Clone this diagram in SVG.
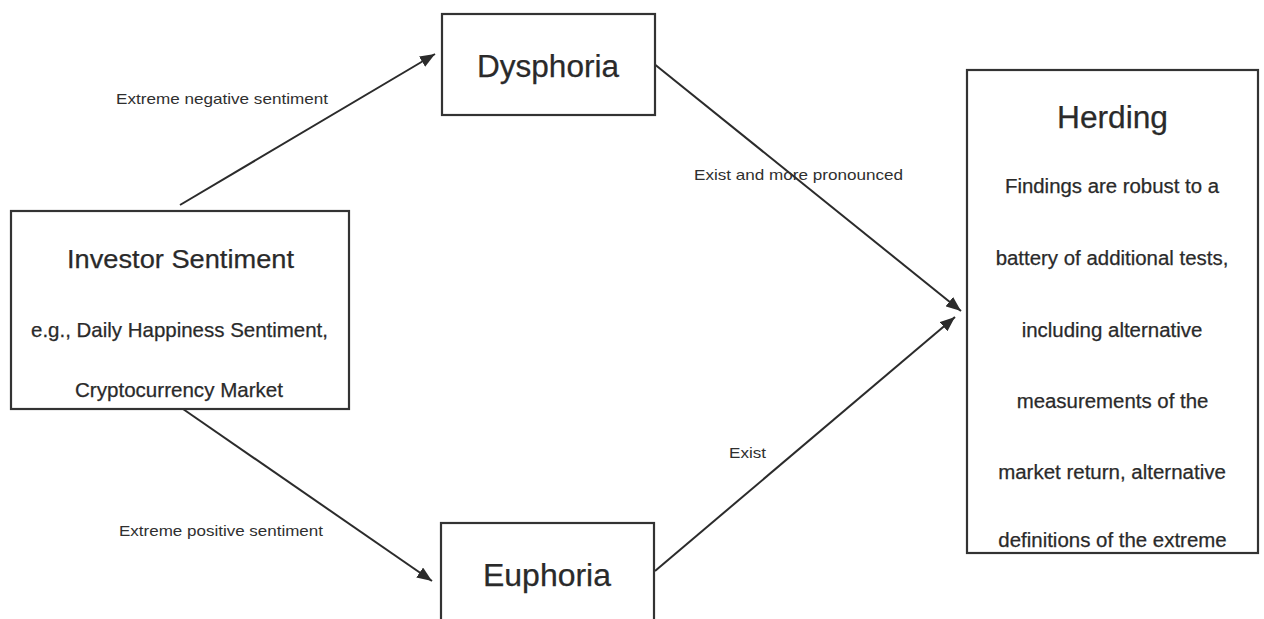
<svg xmlns="http://www.w3.org/2000/svg" width="1264" height="619" viewBox="0 0 1264 619">
<defs>
<marker id="arrow" markerUnits="userSpaceOnUse" markerWidth="16" markerHeight="12" refX="15" refY="6" orient="auto">
<path d="M0,0 L15,6 L0,12 z" fill="#2b2b2b"/>
</marker>
<style>
.box{fill:#fff;stroke:#333;stroke-width:2.2}
.t{font-family:"Liberation Sans",Arial,sans-serif;fill:#2a2a2a;text-anchor:middle;stroke:#2a2a2a;stroke-width:0.25}
.lbl{font-family:"Liberation Sans",Arial,sans-serif;fill:#2f2f2f;font-size:14.5px}
.edge{stroke:#2b2b2b;stroke-width:2;fill:none;marker-end:url(#arrow)}
</style>
</defs>
<rect width="1264" height="619" fill="#fff"/>
<g id="connectors">
<line class="edge" x1="180" y1="205" x2="435" y2="54"/>
<line class="edge" x1="653" y1="63" x2="961" y2="311"/>
<line class="edge" x1="183" y1="409" x2="432" y2="581"/>
<line class="edge" x1="655" y1="571" x2="955" y2="317"/>
<text class="lbl" x="116" y="104" textLength="212" lengthAdjust="spacingAndGlyphs">Extreme negative sentiment</text>
<text class="lbl" x="119" y="536" textLength="204" lengthAdjust="spacingAndGlyphs">Extreme positive sentiment</text>
<text class="lbl" x="694" y="180" textLength="209" lengthAdjust="spacingAndGlyphs">Exist and more pronounced</text>
<text class="lbl" x="729" y="458" textLength="37" lengthAdjust="spacingAndGlyphs">Exist</text>
</g>
<g id="investor">
<rect class="box" x="11" y="211" width="338" height="198"/>
<text class="t" x="180.5" y="268" font-size="26" textLength="227" lengthAdjust="spacingAndGlyphs">Investor Sentiment</text>
<text class="t" x="179.5" y="337" font-size="21" textLength="297" lengthAdjust="spacingAndGlyphs">e.g., Daily Happiness Sentiment,</text>
<text class="t" x="179" y="397" font-size="21" textLength="208" lengthAdjust="spacingAndGlyphs">Cryptocurrency Market</text>
</g>
<g id="dysphoria">
<rect class="box" x="442" y="14" width="213" height="101"/>
<text class="t" x="548" y="77" font-size="31" textLength="142" lengthAdjust="spacingAndGlyphs">Dysphoria</text>
</g>
<g id="euphoria">
<rect class="box" x="441" y="523" width="213" height="120"/>
<text class="t" x="547" y="586" font-size="31" textLength="128" lengthAdjust="spacingAndGlyphs">Euphoria</text>
</g>
<g id="herding">
<rect class="box" x="967" y="70" width="291" height="483"/>
<text class="t" x="1112.5" y="128" font-size="31" textLength="111" lengthAdjust="spacingAndGlyphs">Herding</text>
<text class="t" x="1112" y="193" font-size="20" textLength="214" lengthAdjust="spacingAndGlyphs">Findings are robust to a</text>
<text class="t" x="1112" y="265" font-size="20" textLength="232.7" lengthAdjust="spacingAndGlyphs">battery of additional tests,</text>
<text class="t" x="1112" y="337" font-size="20" textLength="180.7" lengthAdjust="spacingAndGlyphs">including alternative</text>
<text class="t" x="1112.5" y="408" font-size="20" textLength="191.7" lengthAdjust="spacingAndGlyphs">measurements of the</text>
<text class="t" x="1112" y="479" font-size="20" textLength="227.7" lengthAdjust="spacingAndGlyphs">market return, alternative</text>
<text class="t" x="1112.5" y="547" font-size="20" textLength="228.3" lengthAdjust="spacingAndGlyphs">definitions of the extreme</text>
</g>
</svg>
